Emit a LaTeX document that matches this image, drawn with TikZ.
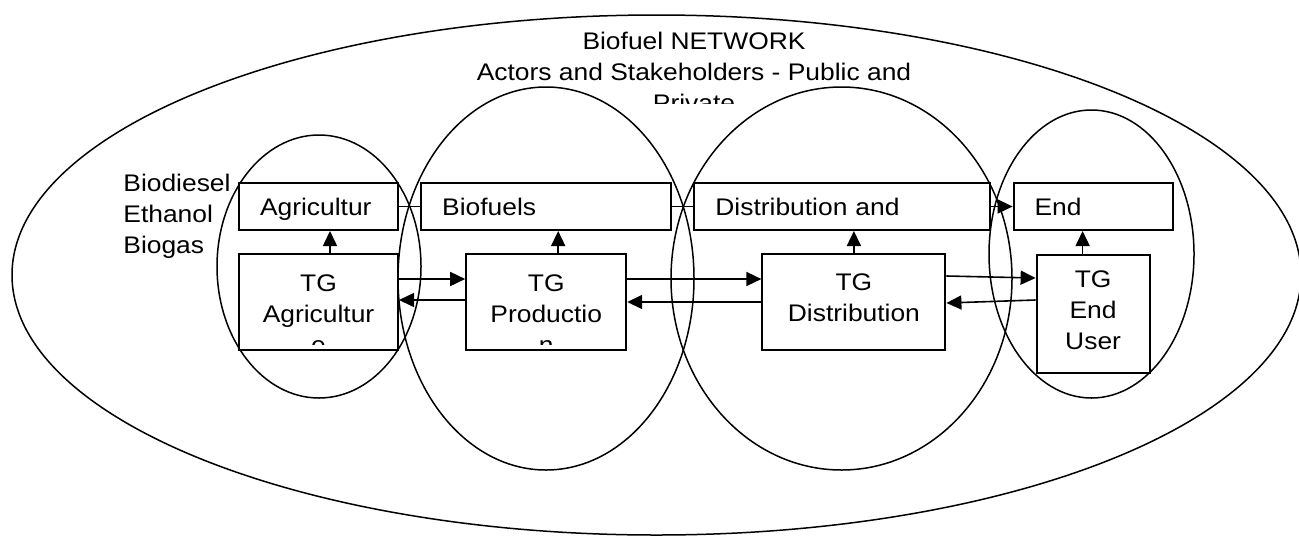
\documentclass[tikz,border=0pt]{standalone}
\usepackage{fontspec}
\setmainfont{Liberation Sans}[FakeStretch=1.1]
\usepackage{tikz}
\usetikzlibrary{positioning, arrows.meta}
\tikzstyle{arrow} = [thick,->,>={Triangle[length=7.5pt,width=7pt]}]

\begin{document}
\begin{tikzpicture}[x=0.5pt, y=-0.5pt,
		font=\fontsize{12pt}{15.5pt}\selectfont,
		node distance=10.6pt,
		stage/.style={
			draw=black,
			fill=white,
			line width=1pt,
			rectangle,
			minimum height=23.5pt,
			inner xsep=10.5pt,
			text height=9pt,
			text depth=0pt,
			align=left},
		team/.style={
			draw=black,
			fill=white,
			line width=1pt,
			rectangle,
			minimum height=48pt},
		caption/.style={
			anchor=base,
			inner sep=0pt,
			align=center},
		ring/.style={line width=0.75pt}]
	\useasboundingbox (0,0) rectangle (1299,536);

	\draw [ring] (656.5,275) ellipse [x radius=644.5, y radius=260];
	\draw [ring] (319,266.5) ellipse [x radius=102, y radius=131.5];
	\draw [ring] (546,278.5) ellipse [x radius=148, y radius=191.5];
	\draw [ring] (841.5,278.5) ellipse [x radius=170.5, y radius=191.5];
	\draw [ring] (1091.5,254) ellipse [x radius=102.5, y radius=144];

	\begin{scope}
		\clip (0,0) rectangle (1299,103);
		\node (title) [caption] at (694,111) {Biofuel NETWORK\\Actors and Stakeholders - Public and\\Private};
	\end{scope}
	\node (fuellist) [caption, anchor=base west, align=left] at (123,253) {Biodiesel\\Ethanol\\Biogas};

	\node (agri) [stage, text width=58.5pt] at (318.5,206.5) {Agricultur};
	\node (fuels) [stage, text width=104pt, right=of agri] {Biofuels};
	\node (distr) [stage, text width=127pt, right=of fuels] {Distribution and};
	\node (enduse) [stage, text width=58.5pt, right=of distr] {End};

	\node (tgagri) [team, minimum width=79.5pt, below=11pt of agri] {};
	\node (tgprod) [team, minimum width=80pt, below=11pt of fuels] {};
	\node (tgdist) [team, minimum width=91.5pt, below=11pt of distr, xshift=5.75pt] {};
	\node (tgend) [team, minimum width=56.5pt, minimum height=59pt, below=11.5pt of enduse] {};

	\begin{scope}
		\clip (tgagri.north west) rectangle ([yshift=3.5pt]tgagri.south east);
		\node (tgagrilbl) [caption] at ([yshift=-50pt]tgagri.north) {TG\\Agricultur\\e};
	\end{scope}
	\begin{scope}
		\clip (tgprod.north west) rectangle ([yshift=3.5pt]tgprod.south east);
		\node (tgprodlbl) [caption] at ([yshift=-50pt]tgprod.north) {TG\\Productio\\n};
	\end{scope}
	\node (tgdistlbl) [caption] at ([yshift=-34pt]tgdist.north) {TG\\Distribution};
	\node (tgendlbl) [caption] at ([yshift=-47.5pt]tgend.north) {TG\\End\\User};

	\draw [thick] (agri) -- (fuels);
	\draw [thick] (fuels) -- (distr);
	\draw [arrow] (distr) -- (enduse);

	\draw [arrow] ([xshift=5.75pt]tgagri.north) -- ([xshift=5.75pt]agri.south);
	\draw [arrow] ([xshift=6pt]tgprod.north) -- ([xshift=6pt]fuels.south);
	\draw [arrow] (tgdist.north) -- (tgdist.north |- distr.south);
	\draw [arrow] ([xshift=-5.25pt]tgend.north) -- ([xshift=-5.25pt]enduse.south);

	\draw [arrow] ([yshift=11.5pt]tgagri.east) -- ([yshift=11.5pt]tgagri.east -| tgprod.west);
	\draw [arrow] ([yshift=1pt]tgprod.west) -- ([yshift=1pt]tgprod.west -| tgagri.east);
	\draw [arrow] ([yshift=11.5pt]tgprod.east) -- ([yshift=11.5pt]tgprod.east -| tgdist.west);
	\draw [arrow] (tgdist.west) -- (tgdist.west -| tgprod.east);
	\draw [arrow] ([yshift=13pt]tgdist.east) -- ([yshift=18pt]tgend.west);
	\draw [arrow] ([yshift=7pt]tgend.west) -- ([yshift=-0.5pt]tgdist.east);
\end{tikzpicture}
\end{document}
